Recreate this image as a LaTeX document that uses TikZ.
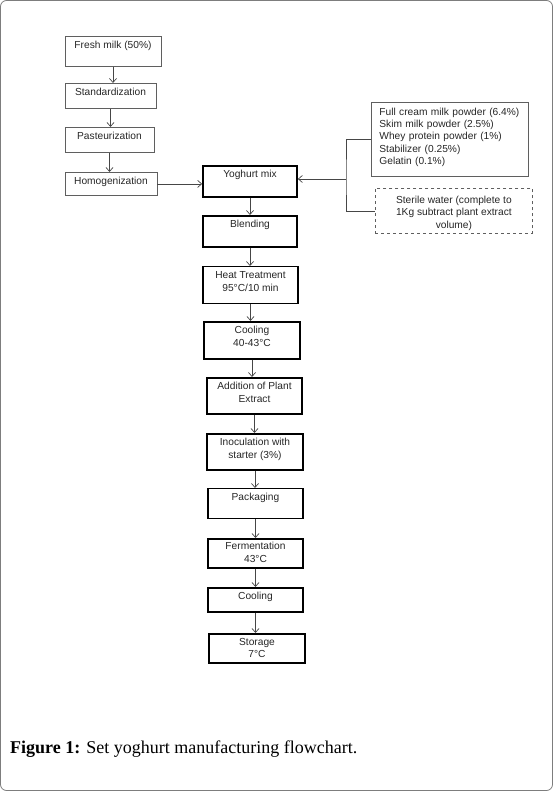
\documentclass[tikz,border=0pt]{standalone}
\usepackage{fontspec}
\setmainfont{Liberation Serif}
\newfontfamily\arialfont{Liberation Sans}
\usetikzlibrary{arrows.meta}
\usepackage{xcolor}
\definecolor{grisborde}{RGB}{95, 95, 95}
\definecolor{grislinea}{RGB}{70, 70, 70}
\definecolor{grismarco}{RGB}{125, 125, 125}

\begin{document}
\begin{tikzpicture}[>={Straight Barb[length=4pt,width=7pt]}, x=1pt, y=-1pt,
    caja/.style={draw=grisborde, line width=0.8pt, anchor=north, inner sep=3pt,
        text height=9pt, align=center, text=black!85,
        font=\arialfont\fontsize{10.2}{12.5}\selectfont},
    dos/.style={text height=21.5pt},
    cajamedia/.style={caja, draw=black, line width=1.2pt},
    cajagruesa/.style={caja, draw=black, line width=1.7pt},
    flecha/.style={->, draw=grislinea, line width=0.7pt}]
    \useasboundingbox (0,0) rectangle (553,791);
    % Marco
    \draw[grismarco, line width=0.8pt, rounded corners=6pt] (0.5,0.5) rectangle (552.5,790.5);

    % Columna izquierda
    \node[caja, minimum width=96pt, text depth=15pt] (leche) at (113,36) {Fresh milk (50\%)};
    \node[caja, minimum width=91pt, text depth=10pt] (estand) at (110.5,83) {Standardization};
    \node[caja, minimum width=89pt, text depth=10pt] (pasteur) at (109.5,127) {Pasteurization};
    \node[caja, minimum width=92pt, text depth=8pt] (homog) at (111,172) {Homogenization};

    % Columna central
    \node[cajagruesa, minimum width=94pt, text depth=16pt] (yog) at (250,165) {Yoghurt mix};
    \node[cajagruesa, minimum width=94pt, text depth=16pt] (mezcla) at (250,215) {Blending};
    \node[cajamedia, dos, minimum width=95pt, text depth=9.5pt] (calor) at (250.5,266) {Heat Treatment\\95°C/10 min};
    \node[cajagruesa, dos, minimum width=96pt, text depth=9.5pt] (enfr) at (252,321) {Cooling\\40-43°C};
    \node[cajagruesa, dos, minimum width=95pt, text depth=8.5pt] (extracto) at (254.5,377) {Addition of Plant\\Extract};
    \node[cajagruesa, dos, minimum width=96pt, text depth=8.5pt] (inoc) at (255,433) {Inoculation with\\starter (3\%)};
    \node[cajamedia, minimum width=95pt, text depth=15pt] (envase) at (255.5,488) {Packaging};
    \node[cajagruesa, minimum width=95pt, text height=20.5pt, text depth=2.5pt] (ferm) at (255.5,538) {Fermentation\\43°C};
    \node[cajagruesa, minimum width=95pt, text depth=9pt] (enfrfin) at (255.5,587) {Cooling};
    \node[cajagruesa, minimum width=96pt, text height=21pt, text depth=2pt] (almac) at (257,633) {Storage\\7°C};

    % Ingredientes
    \node[caja, anchor=north west, align=left, minimum width=157pt, text width=141pt,
        inner xsep=8pt, text height=10pt, text depth=58pt,
        font=\arialfont\fontsize{10.2}{12.3}\selectfont] (ingred) at (371,102)
        {Full cream milk powder (6.4\%)\\Skim milk powder (2.5\%)\\Whey protein powder (1\%)\\Stabilizer (0.25\%)\\Gelatin (0.1\%)};
    \node[caja, anchor=north west, dashed, minimum width=157pt, text height=37pt,
        text depth=2pt] (agua) at (375,188)
        {Sterile water (complete to\\1Kg subtract plant extract\\volume)};
    \coordinate (union) at (346,179);

    % Flechas columna izquierda
    \draw[flecha] (leche.south) -- (leche.south |- estand.north);
    \draw[flecha] (estand.south) -- (estand.south |- pasteur.north);
    \draw[flecha] (pasteur.south) -- (pasteur.south |- homog.north);
    \draw[flecha] (homog.east) -- (homog.east -| yog.west);

    % Flechas columna central
    \draw[flecha] (yog.south) -- (yog.south |- mezcla.north);
    \draw[flecha] (mezcla.south) -- (mezcla.south |- calor.north);
    \draw[flecha] (calor.south) -- (calor.south |- enfr.north);
    \draw[flecha] (enfr.south) -- (enfr.south |- extracto.north);
    \draw[flecha] (extracto.south) -- (extracto.south |- inoc.north);
    \draw[flecha] (inoc.south) -- (inoc.south |- envase.north);
    \draw[flecha] (envase.south) -- (envase.south |- ferm.north);
    \draw[flecha] (ferm.south) -- (ferm.south |- enfrfin.north);
    \draw[flecha] (enfrfin.south) -- (enfrfin.south |- almac.north);

    % Ingredientes hacia la mezcla
    \draw[grislinea, line width=0.7pt] (ingred.west) -| (union) |- (agua.west);
    \draw[flecha] (union) -- (union -| yog.east);

    % Pie de figura
    \node[anchor=base west, inner sep=0pt, font=\fontsize{18}{21}\selectfont] (pie) at (10,753)
        {\textbf{Figure 1:} Set yoghurt manufacturing flowchart.};
\end{tikzpicture}
\end{document}
